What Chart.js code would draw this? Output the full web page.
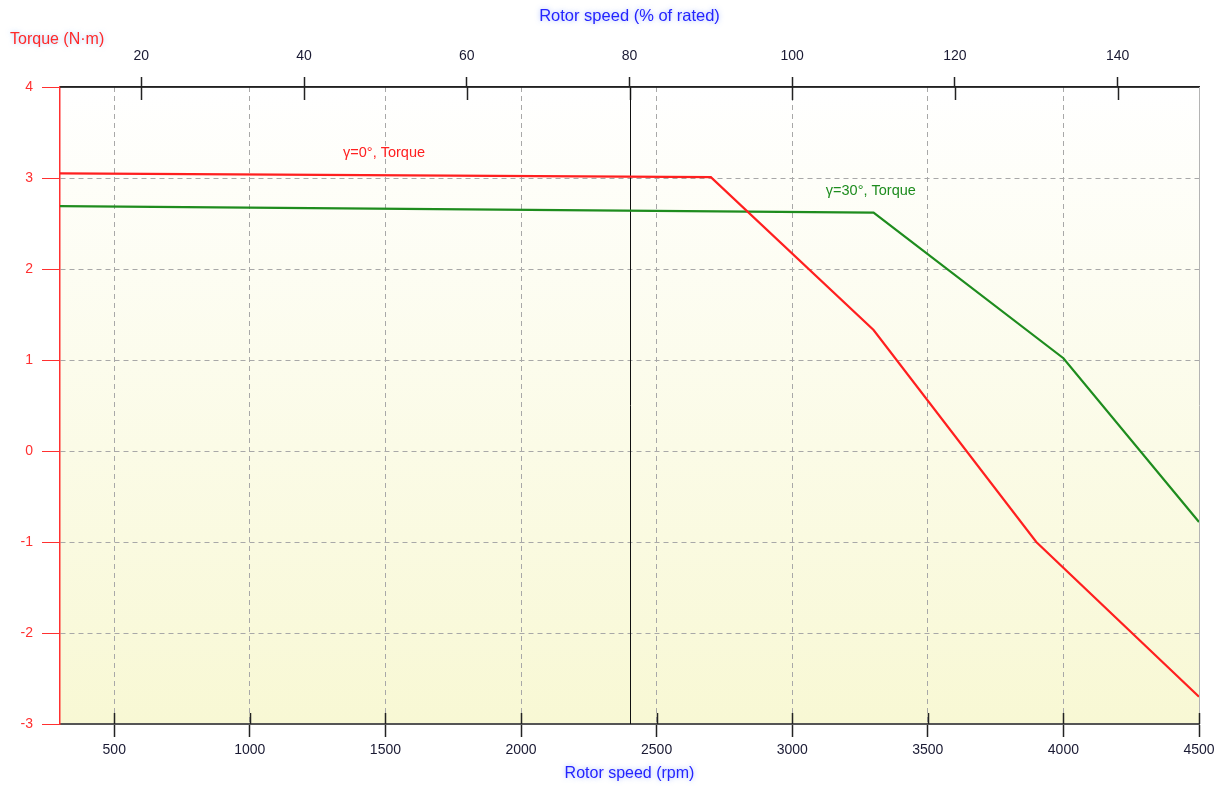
<!DOCTYPE html>
<html>
<head>
<meta charset="utf-8">
<script src="https://cdn.jsdelivr.net/npm/chart.js@4.4.1/dist/chart.umd.min.js"></script>
<style>
  html, body { margin: 0; padding: 0; background: #fff; }
  #wrap { width: 1226px; height: 789px; }
</style>
</head>
<body>
<div id="wrap"><canvas id="grafico"></canvas></div>
<script>
// dados do grafico
const rpmTorque0 = [300, 2700, 3300, 3900, 4500]
const torque0 = [3.05, 3.01, 1.33, -1.0, -2.70]
const rpmTorque30 = [300, 3300, 4000, 4500]
const torque30 = [2.69, 2.62, 1.02, -0.78]

const ticksRpm = [500, 1000, 1500, 2000, 2500, 3000, 3500, 4000, 4500]
const ticksPercent = [20, 40, 60, 80, 100, 120, 140]
const ticksTorque = [-3, -2, -1, 0, 1, 2, 3, 4]

const rpmNominal = 3000 // 100%
const rpmMarcador = 2400 // linha vertical

const rotulos = [
  { texto: "γ=0°, Torque", x: 1495, y: 3.27, cor: "#ff2020" },
  { texto: "γ=30°, Torque", x: 3290, y: 2.86, cor: "#1e8c1e" }
]

const vermelho = "#ff1f1f"
const verde = "#1e8c1e"
const fonte = "'Liberation Sans', Arial, sans-serif"

function pares(xs, ys) {
  return xs.map((x, i) => ({ x: x, y: ys[i] }))
}

function textoComBrilho(ctx, texto, x, y, cor, brilho) {
  ctx.save()
  ctx.shadowColor = brilho
  ctx.shadowBlur = 5
  ctx.fillStyle = cor
  ctx.fillText(texto, x, y)
  ctx.restore()
}

// grade tracejada, sem a linha que cai em cima da borda
function corGrade(limite) {
  return c => (c.tick && c.tick.value === limite) ? "rgba(0,0,0,0)" : "#a8a8a8"
}

// fundo, ticks internos, linha vertical e titulos
const pluginExtras = {
  id: "extras",
  beforeDraw(chart) {
    const { ctx, chartArea: a } = chart
    const grad = ctx.createLinearGradient(0, a.top, 0, a.bottom)
    grad.addColorStop(0, "#ffffff")
    grad.addColorStop(1, "#f8f8d4")
    ctx.save()
    ctx.fillStyle = grad
    ctx.fillRect(a.left, a.top, a.right - a.left, a.bottom - a.top)
    ctx.restore()
  },
  beforeDatasetsDraw(chart) {
    const { ctx, chartArea: a, scales } = chart
    ctx.save()
    // borda direita
    ctx.strokeStyle = "#b4b4b4"
    ctx.lineWidth = 1
    ctx.beginPath()
    ctx.moveTo(a.right + 0.5, a.top)
    ctx.lineTo(a.right + 0.5, a.bottom)
    ctx.stroke()
    // ticks para dentro
    ctx.strokeStyle = "#222"
    ctx.lineWidth = 1.5
    ticksRpm.forEach(v => {
      const px = Math.round(scales.x.getPixelForValue(v)) + 0.5
      ctx.beginPath()
      ctx.moveTo(px, a.bottom)
      ctx.lineTo(px, a.bottom - 11)
      ctx.stroke()
    })
    ticksPercent.forEach(v => {
      const px = Math.round(scales.x2.getPixelForValue(v)) + 0.5
      ctx.beginPath()
      ctx.moveTo(px, a.top)
      ctx.lineTo(px, a.top + 13)
      ctx.stroke()
    })
    // linha vertical em 80%
    const pv = Math.round(scales.x.getPixelForValue(rpmMarcador)) + 0.5
    ctx.strokeStyle = "#111"
    ctx.lineWidth = 1
    ctx.beginPath()
    ctx.moveTo(pv, a.top)
    ctx.lineTo(pv, a.bottom)
    ctx.stroke()
    // eixo de cima por cima da grade
    ctx.strokeStyle = "#222"
    ctx.lineWidth = 1.5
    ctx.beginPath()
    ctx.moveTo(a.left, a.top)
    ctx.lineTo(a.right, a.top)
    ctx.stroke()
    ctx.restore()
  },
  afterDraw(chart) {
    const { ctx, chartArea: a, scales } = chart
    const centro = (a.left + a.right) / 2
    ctx.save()
    ctx.textBaseline = "middle"
    ctx.font = "16.5px " + fonte
    ctx.textAlign = "center"
    textoComBrilho(ctx, "Rotor speed (% of rated)", centro, 16, "#2424ff", "rgba(120,150,255,0.7)")
    ctx.font = "16px " + fonte
    textoComBrilho(ctx, "Rotor speed (rpm)", centro, 774, "#2424ff", "rgba(120,150,255,0.7)")
    ctx.textAlign = "left"
    ctx.font = "16px " + fonte
    textoComBrilho(ctx, "Torque (N·m)", 10, 40, "#ff2a2a", "rgba(120,180,255,0.6)")
    // rotulos das curvas
    ctx.font = "14.5px " + fonte
    ctx.textAlign = "center"
    rotulos.forEach(r => {
      textoComBrilho(ctx, r.texto, scales.x.getPixelForValue(r.x), scales.y.getPixelForValue(r.y), r.cor, "rgba(255,255,255,0.9)")
    })
    ctx.restore()
  }
}

const grafico = new Chart(document.getElementById("grafico"), {
  type: "line",
  data: {
    datasets: [{
      label: "γ=0°, Torque",
      data: pares(rpmTorque0, torque0),
      borderColor: vermelho,
      borderWidth: 2.2,
      pointRadius: 0,
      tension: 0
    }, {
      label: "γ=30°, Torque",
      data: pares(rpmTorque30, torque30),
      borderColor: verde,
      borderWidth: 2.2,
      pointRadius: 0,
      tension: 0
    }]
  },
  options: {
    responsive: true,
    maintainAspectRatio: false,
    animation: false,
    layout: { padding: { left: 0, right: 27, top: 0, bottom: 0 } },
    plugins: {
      legend: { display: false },
      tooltip: { enabled: false }
    },
    scales: {
      x: {
        type: "linear",
        position: "bottom",
        min: 300,
        max: 4500,
        afterBuildTicks: s => { s.ticks = ticksRpm.map(v => ({ value: v })) },
        afterFit: s => { s.height = 65 },
        grid: { color: corGrade(4500), tickColor: "#222", tickLength: 13, tickBorderDash: [], tickWidth: 1.5, lineWidth: 1 },
        border: { color: "#555", width: 2, dash: [5, 4] },
        ticks: { color: "#1a1a33", font: { family: fonte, size: 14 }, padding: 5, maxRotation: 0, callback: v => String(v) }
      },
      x2: {
        type: "linear",
        position: "top",
        min: 300 / rpmNominal * 100,
        max: 4500 / rpmNominal * 100,
        afterBuildTicks: s => { s.ticks = ticksPercent.map(v => ({ value: v })) },
        afterFit: s => { s.height = 87 },
        grid: { drawOnChartArea: false, tickColor: "#222", tickLength: 10, tickWidth: 1.5 },
        border: { color: "#222", width: 1.5 },
        ticks: { color: "#1a1a33", font: { family: fonte, size: 14 }, padding: 12, maxRotation: 0, callback: v => String(v) }
      },
      y: {
        type: "linear",
        position: "left",
        min: -3,
        max: 4,
        afterBuildTicks: s => { s.ticks = ticksTorque.map(v => ({ value: v })) },
        afterFit: s => { s.width = 60 },
        grid: { color: corGrade(4), tickColor: "#ff3030", tickLength: 18, tickBorderDash: [], lineWidth: 1 },
        border: { color: "#ff3030", width: 1.5, dash: [5, 4] },
        ticks: { color: "#ff3030", font: { family: fonte, size: 14 }, padding: 9, callback: v => String(v) }
      }
    }
  },
  plugins: [pluginExtras]
})
</script>
</body>
</html>
